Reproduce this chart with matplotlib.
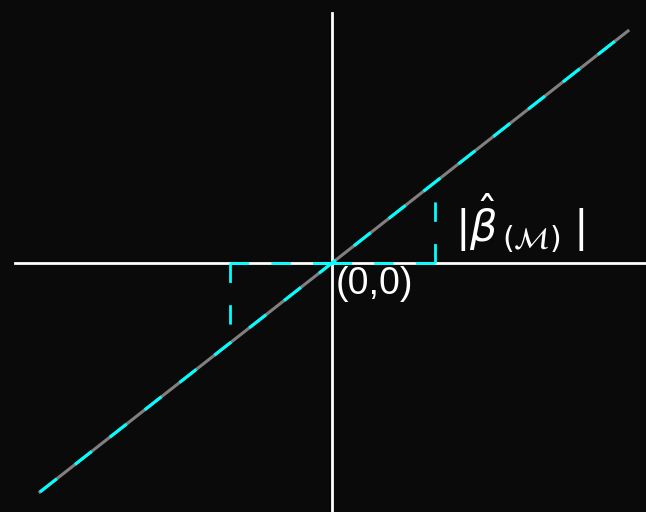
import numpy as np
import matplotlib.pyplot as plt

# regression line through the origin
line_x = [-2.92, 2.96]
slope = 0.784
# points projected onto the axes
proj_x = [-1.02, 1.03]
origin_label = "(0,0)"
beta_label = r"$|\hat{\beta}_{\,(\mathcal{M})}\;|$"

bg = "#0a0a0a"
fig = plt.figure(figsize=(6.46, 5.12), dpi=100, facecolor=bg)
ax = fig.add_axes([0, 0, 1, 1], facecolor=bg)
ax.set_xlim(-3.32, 3.14)
ax.set_ylim(-2.49, 2.63)
ax.axis("off")

# axes crossing at the origin
ax.plot([-3.17, 3.14], [0, 0], color="white", lw=2, zorder=2)
ax.plot([0, 0], [-2.49, 2.50], color="white", lw=2, zorder=2)

# the line: grey solid with cyan dashes on top
lx = np.array(line_x)
ax.plot(lx, slope * lx, color="#808080", lw=2.2, zorder=3)
ax.plot(lx, slope * lx, color="#00ffff", lw=2.2, ls=(0, (7, 7.5)), zorder=4)

# dashed projections
for px in proj_x:
    ax.plot([px, px], [0, slope * px], color="#00ffff", lw=2, ls=(0, (7, 8)), zorder=4)
    ax.plot([0, px], [0, 0], color="#00ffff", lw=2, ls=(0, (7, 8)), zorder=4)

ax.text(0.04, -0.03, origin_label, color="white", fontsize=27,
        family="Liberation Sans", ha="left", va="top", zorder=5)
ax.text(1.23, 0.40, beta_label, color="white", fontsize=31,
        ha="left", va="center", zorder=5)

fig.savefig("out.png", dpi=100, facecolor=bg)
